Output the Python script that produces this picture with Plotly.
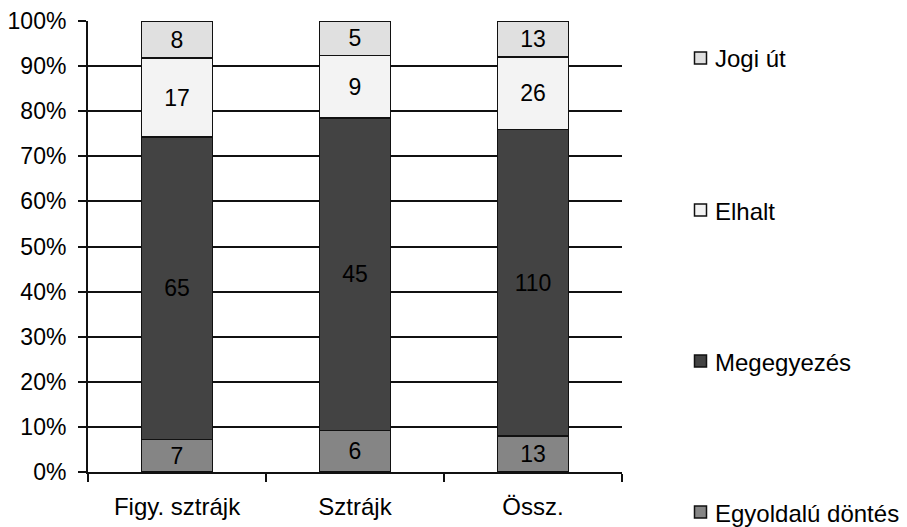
import plotly.graph_objects as go

# Outcome counts per strike type
categories = ["Figy. sztrájk", "Sztrájk", "Össz."]
series_names = ["Egyoldalú döntés", "Megegyezés", "Elhalt", "Jogi út"]
egyoldalu = [7, 6, 13]
megegyezes = [65, 45, 110]
elhalt = [17, 9, 26]
jogi_ut = [8, 5, 13]
series_values = [egyoldalu, megegyezes, elhalt, jogi_ut]
series_colors = ["#858585", "#434343", "#f3f3f3", "#e0e0e0"]

y_ticks = list(range(0, 101, 10))
y_tick_labels = [f"{v}%" for v in y_ticks]

W, H = 907, 527
L, R, T, B = 88, 285, 21, 55
PW, PH = W - L - R, H - T - B

FONT = "Liberation Sans, Arial, sans-serif"
INK = "#000000"

fig = go.Figure()
for name, vals, col in zip(series_names, series_values, series_colors):
    fig.add_trace(go.Bar(
        x=categories, y=vals, name=name,
        marker=dict(color=col, line=dict(color="#111111", width=1.5)),
        text=[str(v) for v in vals], textposition="inside",
        insidetextanchor="middle", textangle=0,
        textfont=dict(family=FONT, size=23, color=INK),
        showlegend=False,
    ))


def px_x(px):
    return (px - L) / PW


def px_y(py):
    return (H - B - py) / PH


# Legend drawn as squares + labels, spread along the right side
legend_centers = [512, 361, 210, 58]
shapes = []
annotations = []
half = 6
for name, col, cy in zip(series_names, series_colors, legend_centers):
    shapes.append(dict(
        type="rect", xref="paper", yref="paper",
        x0=px_x(700.5 - half), x1=px_x(700.5 + half),
        y0=px_y(cy + half), y1=px_y(cy - half),
        fillcolor=col, line=dict(color="#111111", width=1.5), layer="above",
    ))
    annotations.append(dict(
        text=name, xref="paper", yref="paper",
        x=px_x(713), y=px_y(cy + 1), xanchor="left", yanchor="middle",
        showarrow=False, font=dict(family=FONT, size=24, color=INK),
    ))

fig.update_layout(
    template="none",
    width=W, height=H,
    margin=dict(l=L, r=R, t=T, b=B, pad=0),
    paper_bgcolor="white", plot_bgcolor="white",
    barmode="stack", barnorm="percent", bargap=0.6,
    uniformtext=dict(mode=False),
    shapes=shapes, annotations=annotations,
    xaxis=dict(
        type="category", tickson="boundaries", automargin=False,
        ticks="outside", ticklen=8, tickwidth=2, tickcolor="#111111",
        showline=True, linecolor="#111111", linewidth=2,
        showgrid=False, zeroline=False,
        tickfont=dict(family=FONT, size=24, color=INK),
        ticklabelstandoff=12,
    ),
    yaxis=dict(
        range=[0, 100], tickvals=y_ticks, ticktext=y_tick_labels,
        automargin=False,
        ticks="outside", ticklen=8, tickwidth=2, tickcolor="#111111",
        showline=True, linecolor="#111111", linewidth=2,
        showgrid=True, gridcolor="#111111", gridwidth=1.5,
        zeroline=False,
        tickfont=dict(family=FONT, size=23, color=INK),
        ticklabelstandoff=7,
    ),
)

fig.write_html("out.html")
